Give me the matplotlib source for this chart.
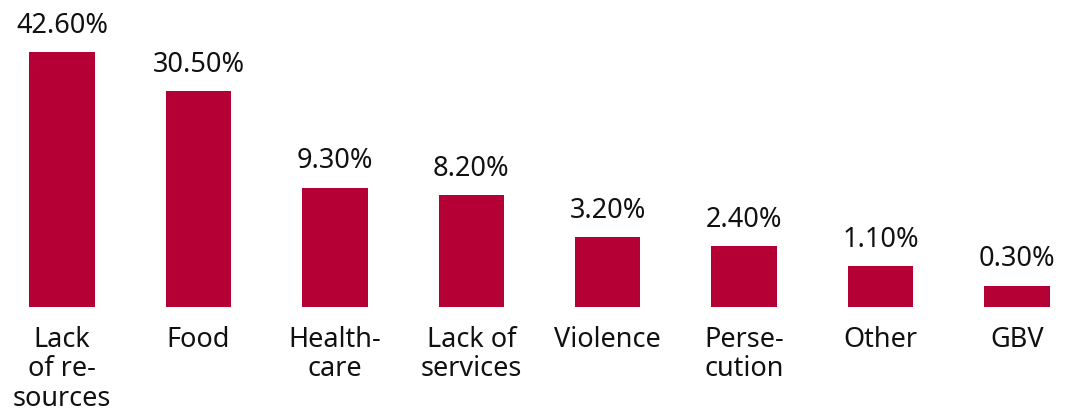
import numpy as np
import matplotlib
matplotlib.use("Agg")
import matplotlib.pyplot as plt

categories = ["Lack\nof re-\nsources", "Food", "Health-\ncare", "Lack of\nservices",
              "Violence", "Perse-\ncution", "Other", "GBV"]
shares = [42.6, 30.5, 9.3, 8.2, 3.2, 2.4, 1.1, 0.3]
value_labels = ["42.60%", "30.50%", "9.30%", "8.20%", "3.20%", "2.40%", "1.10%", "0.30%"]

bar_color = "#B50035"

plt.rcParams["font.family"] = ["Noto Sans", "DejaVu Sans"]

fig = plt.figure(figsize=(10.70, 4.16), dpi=100)
ax = fig.add_axes([0.0, 109 / 416, 1.0, 307 / 416])

x = np.arange(len(categories))
bars = ax.bar(x, shares, width=0.48, color=bar_color)

ax.set_yscale("function", functions=(np.sqrt, np.square))
ax.set_ylim(0, 61.75)
ax.set_xlim(-0.4545, 7.388)

for rect, txt in zip(bars, value_labels):
    ax.annotate(txt, (rect.get_x() + rect.get_width() / 2, rect.get_height()),
                xytext=(0, 9), textcoords="offset points",
                ha="center", va="bottom", fontsize=19.5, color="#111111",
                annotation_clip=False)

ax.set_xticks(x)
ax.set_xticklabels(categories, fontsize=19.5, color="#111111", linespacing=1.05,
                   va="top")
ax.tick_params(axis="x", length=0, pad=14)
ax.set_yticks([])
for side in ax.spines.values():
    side.set_visible(False)

fig.savefig("out.png", dpi=100)
